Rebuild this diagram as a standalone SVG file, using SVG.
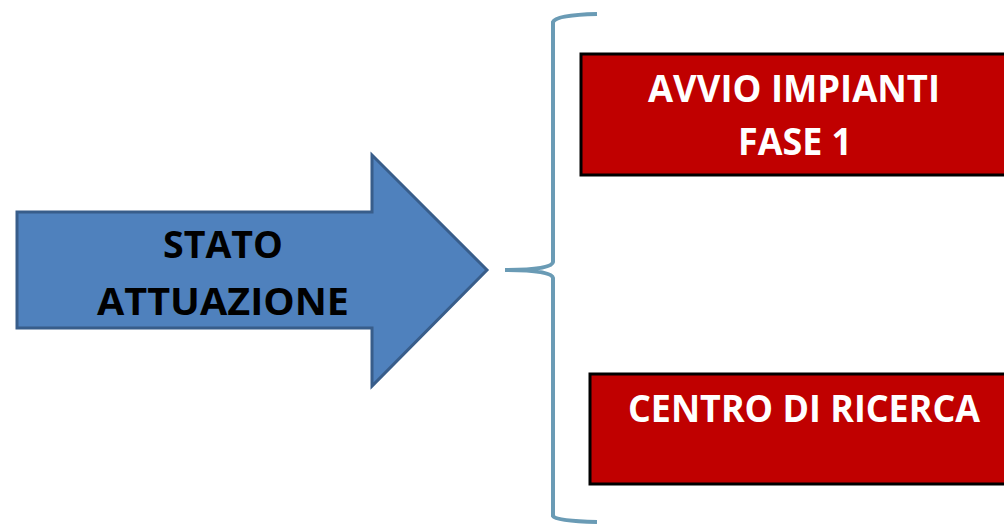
<svg xmlns="http://www.w3.org/2000/svg" width="1004" height="525" viewBox="0 0 1004 525">
<style>
.lbl{font-family:"Open Sans","Liberation Sans",Arial,sans-serif;font-weight:bold;font-size:37px;text-anchor:middle}
.boxfill{fill:#C00000}
.boxedge{fill:none;stroke:#000;stroke-width:3}
</style>
<rect width="1004" height="525" fill="#fff"/>
<g id="arrow">
<polygon points="17,212 372,212 372,155 487,270 372,386 372,328 17,328" fill="#4F81BD" stroke="#385D8A" stroke-width="3" stroke-linejoin="miter"/>
<text class="lbl" x="223" y="258" fill="#000" textLength="120" lengthAdjust="spacingAndGlyphs">STATO</text>
<text class="lbl" x="223" y="315" fill="#000" textLength="252" lengthAdjust="spacingAndGlyphs">ATTUAZIONE</text>
</g>
<g id="connectors">
<path d="M597,14 Q556,15 553,22 L553,262 Q552,270 505,270 Q552,270 553,278 L553,516 Q556,521 597,522" fill="none" stroke="#6A9BB5" stroke-width="4" stroke-linecap="butt"/>
</g>
<g id="box1">
<rect class="boxfill" x="581" y="54" width="423" height="121"/>
<path class="boxedge" d="M1004,54 L581,54 L581,175 L1004,175"/>
<text class="lbl" x="794" y="102" fill="#fff" textLength="292" lengthAdjust="spacingAndGlyphs">AVVIO IMPIANTI</text>
<text class="lbl" x="795" y="155" fill="#fff" textLength="114" lengthAdjust="spacingAndGlyphs">FASE 1</text>
</g>
<g id="box2">
<rect class="boxfill" x="590" y="374" width="414" height="110"/>
<path class="boxedge" d="M1004,374 L590,374 L590,484 L1004,484"/>
<text class="lbl" x="804" y="422" fill="#fff" textLength="352" lengthAdjust="spacingAndGlyphs">CENTRO DI RICERCA</text>
</g>
</svg>
